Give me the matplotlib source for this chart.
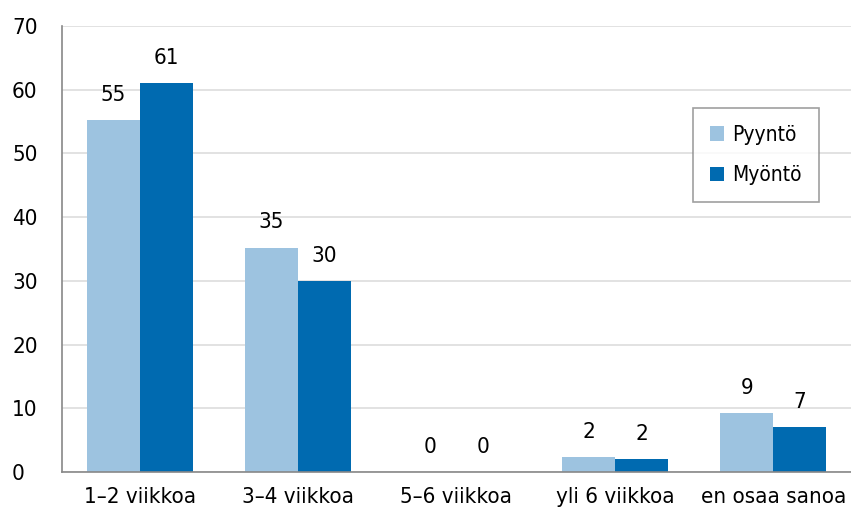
import numpy as np
import matplotlib.pyplot as plt
from matplotlib import font_manager

names = {f.name for f in font_manager.fontManager.ttflist}
if 'Liberation Sans Narrow' in names:
    fam = 'Liberation Sans Narrow'
    stretch = 'normal'
else:
    fam = 'DejaVu Sans'
    stretch = 'condensed'
plt.rcParams['font.family'] = [fam, 'DejaVu Sans']
plt.rcParams['font.stretch'] = stretch

categories = ['1\u20132 viikkoa', '3\u20134 viikkoa', '5\u20136 viikkoa', 'yli 6 viikkoa', 'en osaa sanoa']
pyynto = [55.2, 35.2, 0, 2.3, 9.2]
myonto = [61.0, 30.0, 0, 2.0, 7.0]
pyynto_lbl = [55, 35, 0, 2, 9]
myonto_lbl = [61, 30, 0, 2, 7]
yticks = [0, 10, 20, 30, 40, 50, 60, 70]

c_light = '#9dc3e0'
c_dark = '#006ab0'

fig = plt.figure(figsize=(8.51, 5.15), dpi=100)
ax = fig.add_axes([62/851, 1 - 472/515, 1 - 62/851, (472 - 26)/515])

x = np.arange(len(categories))
w = 0.335
ax.bar(x - w/2, pyynto, w, color=c_light, label='Pyyntö', zorder=2)
ax.bar(x + w/2, myonto, w, color=c_dark, label='Myöntö', zorder=2)

for xi, v, l in zip(x - w/2, pyynto, pyynto_lbl):
    ax.text(xi, v + 2.4, str(l), ha='center', va='bottom', fontsize=16)
for xi, v, l in zip(x + w/2, myonto, myonto_lbl):
    ax.text(xi, v + 2.4, str(l), ha='center', va='bottom', fontsize=16)

ax.set_ylim(0, 70)
ax.set_xlim(-0.49, 4.49)
ax.set_yticks(yticks)
ax.set_xticks(x)
ax.set_xticklabels(categories)
ax.tick_params(axis='both', length=0, labelsize=16)
ax.tick_params(axis='x', pad=11)
ax.tick_params(axis='y', pad=36)
for t in ax.get_yticklabels():
    t.set_ha('left')
ax.yaxis.grid(True, color='#dddddd', lw=1.2, zorder=0)
ax.spines['top'].set_visible(False)
ax.spines['right'].set_visible(False)
ax.spines['left'].set_color('#888888')
ax.spines['bottom'].set_color('#888888')
ax.spines['left'].set_linewidth(1.2)
ax.spines['bottom'].set_linewidth(1.2)

leg = ax.legend(loc='upper left', bbox_to_anchor=((693 - 62)/789, 1 - (108 - 26)/446),
                fontsize=15, frameon=True, fancybox=False, edgecolor='#888888',
                handlelength=0.7, handleheight=0.7, handletextpad=0.4,
                labelspacing=1.0, borderpad=0.8, borderaxespad=0)
leg.get_frame().set_linewidth(1.2)

fig.savefig('out.png', dpi=100)
